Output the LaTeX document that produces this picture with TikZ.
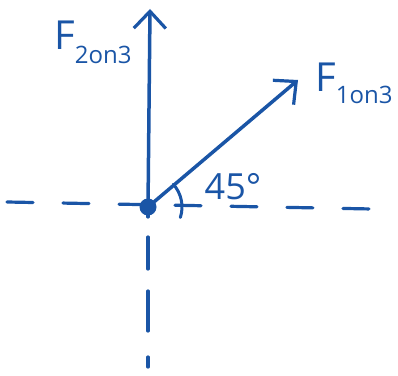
\documentclass[tikz,border=0pt]{standalone}
\usepackage{fontspec}
\setmainfont{Open Sans}
\usetikzlibrary{positioning, calc, arrows.meta}
\definecolor{Ink}{HTML}{1A55A6}
\tikzset{
    forza/.style={-{Straight Barb[length=17pt, width=32pt, line width=3.2pt]}, line width=3.5pt, color=Ink, line cap=round},
    asse/.style={line width=3.2pt, color=Ink, dash pattern=on 26pt off 30pt, line cap=round},
    etichetta/.style={text=Ink, inner sep=0pt, font=\fontsize{40}{44}\selectfont},
    punto/.style={circle, fill=Ink, minimum size=17pt, inner sep=0pt},
}
\begin{document}
\begin{tikzpicture}[x=1pt, y=1pt]
    \useasboundingbox (0,0) rectangle (398,375);
    % Nodi
    \node[punto] (o) at (148,168) {};
    \coordinate (su) at (150,366);
    \coordinate (obl) at (298,295);
    \coordinate (sx) at (7,173);
    \coordinate (dx) at (372,166);
    \coordinate (giu) at (148,0);
    % Assi tratteggiati
    \draw[asse] (sx) -- (dx);
    \draw[asse, dash pattern=on 10pt off 20pt on 32pt off 22pt on 40pt off 26pt] (o.center) -- (giu);
    % Forze
    \draw[forza] (o.center) -- (su);
    \draw[forza] (o.center) -- (obl);
    % Angolo
    \draw[line width=3pt, Ink, line cap=round] (o.center) ++(-18:34) arc (-18:42:34);
    % Etichette
    \node[etichetta] (f2) at (93,333) {F\raisebox{-0.35em}{\fontsize{24}{26}\selectfont 2on3}};
    \node[etichetta] (f1) at (354,292) {F\raisebox{-0.3em}{\fontsize{24}{26}\selectfont 1on3}};
    \node[etichetta, font=\fontsize{36}{40}\selectfont] (ang) at (233,188) {45°};
\end{tikzpicture}
\end{document}
